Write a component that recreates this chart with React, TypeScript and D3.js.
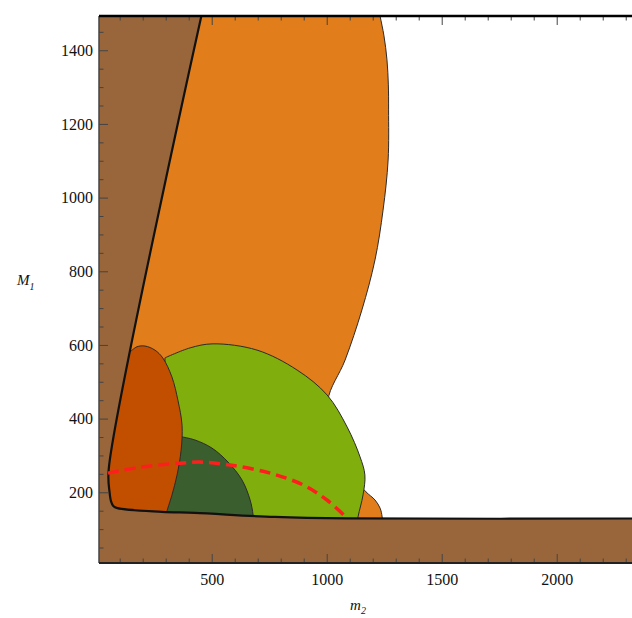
import React, { useEffect, useRef } from "react";
import * as d3 from "d3";

const W = 632;
const H = 618;

// axis ranges and ticks
const xDomain = [10, 2336];
const yDomain = [8, 1493];
const xMajor = [500, 1000, 1500, 2000];
const xMinor = [100, 200, 300, 400, 600, 700, 800, 900, 1100, 1200, 1300, 1400, 1600, 1700, 1800, 1900, 2100, 2200, 2300];
const yMajor = [200, 400, 600, 800, 1000, 1200, 1400];
const yMinor = [50, 100, 150, 250, 300, 350, 450, 500, 550, 650, 700, 750, 850, 900, 950, 1050, 1100, 1150, 1250, 1300, 1350, 1450];

// excluded-region boundary (black line)
const boundary = [
  [455, 1493], [52, 261], [56, 200], [62, 176], [72, 163], [90, 157],
  [283, 147], [426, 144], [774, 133], [1087, 129], [2500, 129],
];

// visible edge of each region, then hidden closing points
const orangeEdge = [
  [1227, 1510], [1232, 1493], [1249, 1439], [1262, 1374], [1268, 1306], [1269, 1238],
  [1267, 1102], [1245, 966], [1210, 831], [1153, 695], [1080, 559], [1006, 450],
  [1036, 369], [1093, 288], [1136, 228], [1171, 201], [1210, 179], [1232, 157],
  [1241, 133], [1245, 84],
];
const orangeClose = [[0, 84], [0, 1510]];

const greenEdge = [
  [297, 565], [406, 592], [506, 603], [697, 586], [871, 532], [1002, 464],
  [1089, 377], [1145, 296], [1166, 247], [1158, 193], [1136, 133], [1123, 84],
];
const greenClose = [[290, 84]];

const darkGreenEdge = [
  [295, 363], [353, 353], [427, 342], [501, 320], [571, 282], [632, 233],
  [667, 179], [680, 138], [684, 97],
];
const darkGreenClose = [[295, 97]];

const darkOrangeEdge = [
  [145, 581], [175, 595], [210, 597], [253, 586], [288, 564], [327, 513],
  [353, 450], [371, 382], [367, 314], [349, 246], [327, 192], [301, 138], [292, 97],
];
const darkOrangeClose = [[0, 97], [0, 581]];

const redDashed = [
  [49, 252], [188, 268], [362, 279], [449, 282], [580, 274], [754, 252],
  [897, 220], [1001, 179], [1088, 130],
];

const App = () => {
  const svgEl = useRef(null);

  useEffect(() => {
    if (!svgEl.current) return;
    drawChartOn(svgEl.current);
  }, [svgEl]);

  return (
    <svg
      ref={svgEl}
      width={W}
      height={H}
      style={{ position: "absolute", left: 0, top: 0, background: "#fff" }}
    ></svg>
  );
};

function drawChartOn(svgEl) {
  const svg = d3.select(svgEl);
  svg.selectAll("*").remove();

  const x = d3.scaleLinear().domain(xDomain).range([99, 634]);
  const y = d3.scaleLinear().domain(yDomain).range([563, 16]);

  const line = d3.line().x((d) => x(d[0])).y((d) => y(d[1]));
  const smooth = d3.line().x((d) => x(d[0])).y((d) => y(d[1])).curve(d3.curveCatmullRom.alpha(0.5));
  const region = (edge, close) => smooth(edge) + line(close).replace(/^M/, "L") + "Z";

  const defs = svg.append("defs");
  defs
    .append("clipPath")
    .attr("id", "plot-area")
    .append("rect")
    .attr("x", x(xDomain[0]))
    .attr("y", y(yDomain[1]))
    .attr("width", W - x(xDomain[0]))
    .attr("height", y(yDomain[0]) - y(yDomain[1]));
  defs
    .append("clipPath")
    .attr("id", "allowed")
    .append("path")
    .attr("d", smooth(boundary) + line([[2500, 1493]]).replace(/^M/, "L") + "Z");

  const plot = svg.append("g").attr("clip-path", "url(#plot-area)");

  plot
    .append("rect")
    .attr("x", x(xDomain[0]))
    .attr("y", y(yDomain[1]))
    .attr("width", W - x(xDomain[0]))
    .attr("height", y(yDomain[0]) - y(yDomain[1]))
    .attr("fill", "#98663a");

  const inside = plot.append("g").attr("clip-path", "url(#allowed)");
  inside
    .append("rect")
    .attr("x", 0)
    .attr("y", 0)
    .attr("width", W)
    .attr("height", H)
    .attr("fill", "#ffffff");

  const regions = [
    { d: region(orangeEdge, orangeClose), fill: "#e17d1a" },
    { d: region(greenEdge, greenClose), fill: "#80ae0c" },
    { d: region(darkGreenEdge, darkGreenClose), fill: "#3a5e2e" },
    { d: region(darkOrangeEdge, darkOrangeClose), fill: "#c24e00" },
  ];
  inside
    .selectAll("path.region")
    .data(regions)
    .enter()
    .append("path")
    .attr("class", "region")
    .attr("d", (d) => d.d)
    .attr("fill", (d) => d.fill)
    .attr("stroke", "#2b2b2b")
    .attr("stroke-width", 1)
    .attr("stroke-linejoin", "round");

  plot
    .append("path")
    .attr("d", smooth(boundary))
    .attr("fill", "none")
    .attr("stroke", "#111")
    .attr("stroke-width", 2.2)
    .attr("stroke-linejoin", "round");

  plot
    .append("path")
    .attr("d", smooth(redDashed))
    .attr("fill", "none")
    .attr("stroke", "#ff1e1e")
    .attr("stroke-width", 3.5)
    .attr("stroke-dasharray", "11,6");

  // frame
  const bottom = y(yDomain[0]);
  const top = y(yDomain[1]);
  const left = x(xDomain[0]);

  const axisStyle = (g) => {
    g.select(".domain").remove();
    g.selectAll("line").attr("stroke", "#444").attr("stroke-width", 1);
    g.selectAll("text")
      .attr("fill", "#111")
      .attr("font-family", "'Liberation Serif', serif")
      .attr("font-size", 16);
  };

  svg.append("g")
    .attr("transform", `translate(0,${bottom})`)
    .call(d3.axisBottom(x).tickValues(xMajor).tickSize(-9).tickPadding(11).tickFormat(d3.format("d")))
    .call(axisStyle);
  svg.append("g")
    .attr("transform", `translate(0,${bottom})`)
    .call(d3.axisBottom(x).tickValues(xMinor).tickSize(-4.5).tickFormat(() => ""))
    .call(axisStyle);
  svg.append("g")
    .attr("transform", `translate(0,${top})`)
    .call(d3.axisTop(x).tickValues(xMajor).tickSize(-9).tickFormat(() => ""))
    .call(axisStyle);
  svg.append("g")
    .attr("transform", `translate(0,${top})`)
    .call(d3.axisTop(x).tickValues(xMinor).tickSize(-4.5).tickFormat(() => ""))
    .call(axisStyle);
  svg.append("g")
    .attr("transform", `translate(${left},0)`)
    .call(d3.axisLeft(y).tickValues(yMajor).tickSize(-9).tickPadding(6).tickFormat(d3.format("d")))
    .call(axisStyle);
  svg.append("g")
    .attr("transform", `translate(${left},0)`)
    .call(d3.axisLeft(y).tickValues(yMinor).tickSize(-4.5).tickFormat(() => ""))
    .call(axisStyle);

  svg.append("line")
    .attr("x1", left).attr("x2", left).attr("y1", top).attr("y2", bottom)
    .attr("stroke", "#444").attr("stroke-width", 1.5);
  svg.append("line")
    .attr("x1", left).attr("x2", W).attr("y1", bottom).attr("y2", bottom)
    .attr("stroke", "#222").attr("stroke-width", 2);
  svg.append("line")
    .attr("x1", left).attr("x2", W).attr("y1", top).attr("y2", top)
    .attr("stroke", "#000").attr("stroke-width", 2.5);

  // axis titles
  const yTitle = svg.append("text")
    .attr("x", 17)
    .attr("y", 285)
    .attr("font-family", "'Liberation Serif', serif")
    .attr("font-style", "italic")
    .attr("font-size", 15)
    .attr("fill", "#111");
  yTitle.append("tspan").text("M");
  yTitle.append("tspan").attr("font-size", 10).attr("dy", 5).text("1");

  const xTitle = svg.append("text")
    .attr("x", 358)
    .attr("y", 610)
    .attr("text-anchor", "middle")
    .attr("font-family", "'Liberation Serif', serif")
    .attr("font-style", "italic")
    .attr("font-size", 15)
    .attr("fill", "#111");
  xTitle.append("tspan").text("m");
  xTitle.append("tspan").attr("font-size", 10).attr("dy", 4).text("2");
}

export default App;
